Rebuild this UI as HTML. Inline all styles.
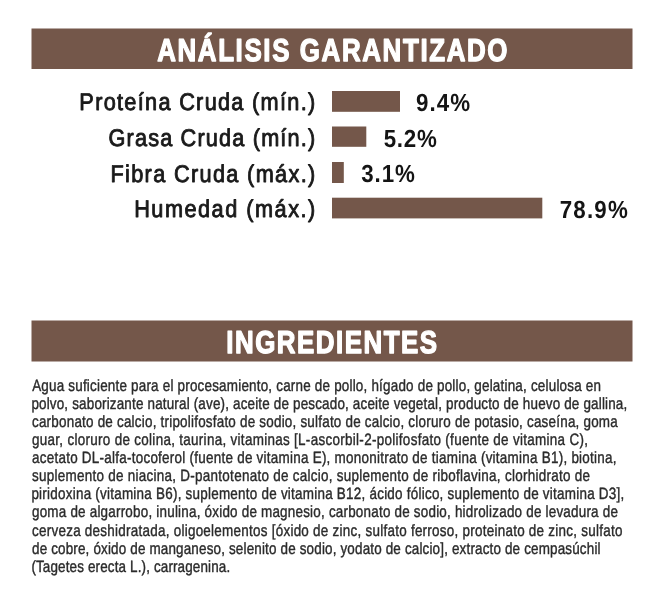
<!DOCTYPE html>
<html lang="es"><head><meta charset="utf-8"><title>Análisis garantizado</title>
<style>
html,body{margin:0;padding:0;background:#fff;}
body{width:665px;height:603px;overflow:hidden;}
svg{display:block;will-change:transform;}
text{font-family:"Liberation Sans",sans-serif;stroke-linejoin:round;text-rendering:geometricPrecision;}
.h{font-weight:bold;fill:#fff;stroke:#fff;stroke-width:1.3px;}
.l{fill:#1a1a1a;stroke:#1a1a1a;stroke-width:0.9px;}
.v{font-weight:bold;fill:#141414;stroke:#141414;stroke-width:0.0px;}
.p{fill:#2b2b2b;stroke:#2b2b2b;stroke-width:0.4px;}
</style></head><body>
<svg width="665" height="603" viewBox="0 0 665 603">
<rect width="665" height="603" fill="#fff"/>
<rect x="31.5" y="28.5" width="601" height="40.5" fill="#74574a"/>
<text class="h" transform="translate(157.17 61.30) scale(0.82 1)" font-size="31.6" textLength="427.22" lengthAdjust="spacing">ANÁLISIS GARANTIZADO</text>
<rect x="31.5" y="320.5" width="601" height="41" fill="#74574a"/>
<text class="h" transform="translate(226.36 352.80) scale(0.82 1)" font-size="31.6" textLength="256.87" lengthAdjust="spacing">INGREDIENTES</text>
<text class="l" transform="translate(79.37 110.20) scale(0.9 1)" font-size="24.1" textLength="262.09" lengthAdjust="spacing">Proteína Cruda (mín.)</text>
<rect x="332.0" y="91.0" width="68.0" height="20.8" fill="#74574a"/>
<text class="v" transform="translate(416.11 110.70) scale(0.9 1)" font-size="24.8" textLength="60.04" lengthAdjust="spacing">9.4%</text>
<text class="l" transform="translate(108.47 146.00) scale(0.9 1)" font-size="24.1" textLength="229.76" lengthAdjust="spacing">Grasa Cruda (mín.)</text>
<rect x="332.0" y="126.5" width="34.3" height="20.3" fill="#74574a"/>
<text class="v" transform="translate(383.71 146.50) scale(0.9 1)" font-size="24.8" textLength="59.04" lengthAdjust="spacing">5.2%</text>
<text class="l" transform="translate(110.44 181.70) scale(0.9 1)" font-size="24.1" textLength="227.57" lengthAdjust="spacing">Fibra Cruda (máx.)</text>
<rect x="332.0" y="162" width="11.8" height="21.0" fill="#74574a"/>
<text class="v" transform="translate(361.24 182.20) scale(0.9 1)" font-size="24.8" textLength="59.64" lengthAdjust="spacing">3.1%</text>
<text class="l" transform="translate(134.15 217.40) scale(0.9 1)" font-size="24.1" textLength="201.22" lengthAdjust="spacing">Humedad (máx.)</text>
<rect x="332.0" y="197.7" width="210.3" height="20.7" fill="#74574a"/>
<text class="v" transform="translate(559.72 217.90) scale(0.9 1)" font-size="24.8" textLength="75.69" lengthAdjust="spacing">78.9%</text>
<text class="p" transform="translate(32.15 390.90) scale(0.82 1)" font-size="16.4" textLength="693.71" lengthAdjust="spacing">Agua suficiente para el procesamiento, carne de pollo, hígado de pollo, gelatina, celulosa en</text>
<text class="p" transform="translate(31.38 408.98) scale(0.82 1)" font-size="16.4" textLength="726.67" lengthAdjust="spacing">polvo, saborizante natural (ave), aceite de pescado, aceite vegetal, producto de huevo de gallina,</text>
<text class="p" transform="translate(32.00 427.06) scale(0.82 1)" font-size="16.4" textLength="714.32" lengthAdjust="spacing">carbonato de calcio, tripolifosfato de sodio, sulfato de calcio, cloruro de potasio, caseína, goma</text>
<text class="p" transform="translate(32.00 445.14) scale(0.82 1)" font-size="16.4" textLength="677.96" lengthAdjust="spacing">guar, cloruro de colina, taurina, vitaminas [L-ascorbil-2-polifosfato (fuente de vitamina C),</text>
<text class="p" transform="translate(32.00 463.22) scale(0.82 1)" font-size="16.4" textLength="712.83" lengthAdjust="spacing">acetato DL-alfa-tocoferol (fuente de vitamina E), mononitrato de tiamina (vitamina B1), biotina,</text>
<text class="p" transform="translate(32.00 481.30) scale(0.82 1)" font-size="16.4" textLength="680.43" lengthAdjust="spacing">suplemento de niacina, D-pantotenato de calcio, suplemento de riboflavina, clorhidrato de</text>
<text class="p" transform="translate(31.38 499.38) scale(0.82 1)" font-size="16.4" textLength="722.97" lengthAdjust="spacing">piridoxina (vitamina B6), suplemento de vitamina B12, ácido fólico, suplemento de vitamina D3],</text>
<text class="p" transform="translate(32.00 517.46) scale(0.82 1)" font-size="16.4" textLength="714.52" lengthAdjust="spacing">goma de algarrobo, inulina, óxido de magnesio, carbonato de sodio, hidrolizado de levadura de</text>
<text class="p" transform="translate(32.00 535.54) scale(0.82 1)" font-size="16.4" textLength="720.02" lengthAdjust="spacing">cerveza deshidratada, oligoelementos [óxido de zinc, sulfato ferroso, proteinato de zinc, sulfato</text>
<text class="p" transform="translate(32.00 553.62) scale(0.82 1)" font-size="16.4" textLength="693.34" lengthAdjust="spacing">de cobre, óxido de manganeso, selenito de sodio, yodato de calcio], extracto de cempasúchil</text>
<text class="p" transform="translate(31.40 571.70) scale(0.82 1)" font-size="16.4" textLength="242.43" lengthAdjust="spacing">(Tagetes erecta L.), carragenina.</text>
</svg></body></html>
